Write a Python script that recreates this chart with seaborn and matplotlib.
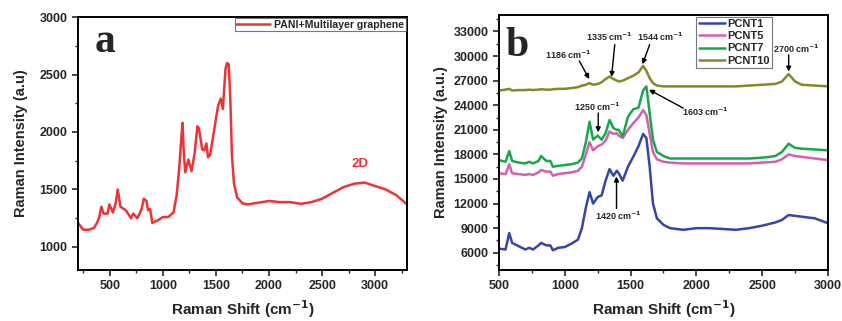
import numpy as np
import pandas as pd
import matplotlib
matplotlib.use("Agg")
import matplotlib.pyplot as plt
import seaborn as sns
from matplotlib.ticker import MultipleLocator

# ---------------- data ----------------
pani_x = [200, 250, 300, 350, 380, 400, 420, 440, 480, 495, 530, 555, 575, 600, 650, 700, 720, 760, 800, 820,
          845, 860, 880, 900, 950, 1000, 1050, 1100, 1130, 1155, 1170, 1185, 1195, 1210, 1240, 1270, 1300, 1325, 1340,
          1370, 1390, 1410, 1425, 1445, 1480, 1520, 1545, 1565, 1590, 1605, 1620, 1635, 1650, 1670, 1700, 1750,
          1800, 1900, 2000, 2100, 2200, 2300, 2400, 2500, 2600, 2700, 2800, 2900, 3000, 3100, 3200, 3300]
pani_y = [1210, 1150, 1150, 1165, 1210, 1260, 1350, 1290, 1290, 1370, 1300, 1380, 1500, 1350, 1320, 1250, 1290, 1250, 1330, 1420,
          1400, 1320, 1330, 1210, 1230, 1260, 1260, 1300, 1450, 1700, 1900, 2080, 1850, 1650, 1760, 1660, 1820, 2050, 2030,
          1850, 1840, 1900, 1780, 1800, 2000, 2230, 2290, 2200, 2550, 2600, 2590, 2300, 1800, 1550, 1430, 1380,
          1370, 1385, 1400, 1390, 1390, 1375, 1390, 1420, 1470, 1520, 1550, 1560, 1530, 1500, 1450, 1370]

b_x = [500, 550, 578, 600, 650, 700, 730, 760, 800, 820, 860, 890, 910, 950, 1000, 1050, 1100, 1130, 1160,
       1188, 1215, 1250, 1280, 1310, 1340, 1370, 1395, 1410, 1440, 1480, 1520, 1560, 1595, 1620, 1645, 1670,
       1700, 1750, 1800, 1900, 2000, 2100, 2200, 2300, 2400, 2500, 2600, 2650, 2700, 2750, 2800, 2900, 3000]
pcnt1 = [6500, 6400, 8400, 7200, 6800, 6400, 6600, 6400, 6900, 7200, 6900, 6900, 6300, 6600, 6700, 7100, 7600, 9000, 11500,
         13400, 12000, 12800, 13000, 14800, 16200, 15400, 16000, 15700, 14800, 16500, 17700, 19000, 20500, 20000, 16500, 12000,
         10200, 9400, 9000, 8800, 9000, 9000, 8900, 8800, 9000, 9300, 9700, 10000, 10600, 10500, 10400, 10200, 9600]
pcnt5 = [15700, 15600, 16800, 15700, 15600, 15500, 15600, 15500, 15800, 16100, 15900, 15900, 15400, 15600, 15700, 15800, 16000, 16500, 18000,
         19500, 18500, 19000, 19200, 19700, 20800, 20500, 20600, 20300, 20000, 21000, 21800, 22500, 23400, 22800, 20500, 18300,
         17400, 17100, 17000, 16900, 16900, 16900, 16900, 16900, 16900, 17000, 17100, 17400, 18000, 17800, 17700, 17500, 17300]
pcnt7 = [17300, 17100, 18400, 17200, 17000, 16900, 17100, 16900, 17200, 17800, 17200, 17200, 16500, 16600, 16700, 16800, 17000, 17500, 19500,
         22000, 19800, 20300, 19800, 20600, 22200, 21200, 21000, 21000, 20200, 22600, 23500, 23700, 25800, 26300, 23000, 19800,
         18300, 17800, 17500, 17500, 17500, 17500, 17500, 17500, 17500, 17600, 17800, 18300, 19300, 18800, 18700, 18600, 18500]
pcnt10 = [25800, 25900, 26000, 25800, 25850, 25850, 25900, 25850, 25900, 25950, 25900, 25900, 25950, 26000, 26000, 26100, 26200, 26400, 26500,
          26700, 26500, 26600, 26800, 27200, 27500, 27200, 27000, 26900, 27000, 27300, 27600, 28000, 28800, 28200, 27300, 26700,
          26400, 26300, 26300, 26300, 26300, 26300, 26300, 26300, 26400, 26500, 26600, 26900, 27800, 26900, 26500, 26400, 26300]

labels_b = ["PCNT1", "PCNT5", "PCNT7", "PCNT10"]
colors_b = ["#3645a8", "#d45fb0", "#16a94a", "#86872a"]
pani_color = "#ee3337"

# annotations: (text, text_x, text_y, arrow_x, arrow_y, start_x, start_y)
annot_b = [
    ("1186", 1030, 30150, 1186, 27200, 1110, 29400),
    ("1335", 1340, 32400, 1355, 27450, 1380, 31400),
    ("1544", 1725, 32300, 1590, 29000, 1645, 31400),
    ("2700", 2760, 30850, 2701, 28100, 2701, 30150),
    ("1250", 1245, 23850, 1254, 20700, 1254, 23050),
    ("1603", 2065, 23200, 1640, 25900, 1900, 23650),
    ("1420", 1405, 10450, 1393, 15300, 1393, 11400),
]

# ---------------- style ----------------
sns.set_theme(style="ticks")
plt.rcParams["font.family"] = ["Liberation Sans", "DejaVu Sans"]
plt.rcParams["font.weight"] = "bold"
plt.rcParams["axes.labelweight"] = "bold"
plt.rcParams["mathtext.default"] = "bf"
plt.rcParams["axes.linewidth"] = 1.4

fig = plt.figure(figsize=(8.42, 3.21), dpi=100)
axa = fig.add_axes([0.0926, 0.159, 0.3908, 0.788])
axb = fig.add_axes([0.5926, 0.159, 0.3908, 0.794])

# panel a
dfa = pd.DataFrame({"x": pani_x, "y": pani_y, "s": "PANI+Multilayer graphene"})
sns.lineplot(data=dfa, x="x", y="y", hue="s", palette=[pani_color], ax=axa,
             sort=False, estimator=None, linewidth=1.8)
axa.set_xlim(200, 3300)
axa.set_ylim(800, 3000)
axa.xaxis.set_major_locator(MultipleLocator(500))
axa.xaxis.set_minor_locator(MultipleLocator(250))
axa.yaxis.set_major_locator(MultipleLocator(500))
axa.yaxis.set_minor_locator(MultipleLocator(250))
axa.set_xlabel("Raman Shift (cm$^{-1}$)", fontsize=11)
axa.set_ylabel("Raman Intensity (a.u)", fontsize=10.5, labelpad=8)
axa.text(2858, 1720, "2D", color=pani_color, fontsize=9.5, ha="center", va="center")
axa.text(0.05, 0.9, "a", transform=axa.transAxes, family="Liberation Serif",
         fontsize=30, fontweight="bold", ha="left", va="center")
leg = axa.legend(loc="upper right", fontsize=7.6, frameon=True, fancybox=False,
                 edgecolor="#555555", borderpad=0.15, handlelength=3.2,
                 borderaxespad=0.1, handletextpad=0.4)
leg.get_frame().set_linewidth(0.8)

# panel b
rows = []
for lab, ys in zip(labels_b, [pcnt1, pcnt5, pcnt7, pcnt10]):
    for xv, yv in zip(b_x, ys):
        rows.append((xv, yv, lab))
dfb = pd.DataFrame(rows, columns=["x", "y", "s"])
sns.lineplot(data=dfb, x="x", y="y", hue="s", hue_order=labels_b, palette=colors_b,
             ax=axb, sort=False, estimator=None, linewidth=1.8)
axb.set_xlim(500, 3000)
axb.set_ylim(3900, 35000)
axb.xaxis.set_major_locator(MultipleLocator(500))
axb.xaxis.set_minor_locator(MultipleLocator(250))
axb.yaxis.set_major_locator(MultipleLocator(3000))
axb.yaxis.set_minor_locator(MultipleLocator(1500))
axb.set_xlabel("Raman Shift (cm$^{-1}$)", fontsize=11)
axb.set_ylabel("Raman Intensity (a.u.)", fontsize=10.5)
axb.text(0.02, 0.88, "b", transform=axb.transAxes, family="Liberation Serif",
         fontsize=30, fontweight="bold", ha="left", va="center")
for t, tx, ty, ax_, ay_, sx, sy in annot_b:
    axb.text(tx, ty, t + " cm$^{-1}$", fontsize=6.5, ha="center", va="center")
    axb.annotate("", xy=(ax_, ay_), xytext=(sx, sy),
                 arrowprops=dict(arrowstyle="-|>", color="black", lw=1.0,
                                 mutation_scale=7, shrinkA=0, shrinkB=0))
legb = axb.legend(loc="upper left", bbox_to_anchor=(0.595, 1.0), fontsize=8,
                  frameon=True, fancybox=False, edgecolor="#555555",
                  borderpad=0.2, handlelength=2.4, labelspacing=0.2,
                  borderaxespad=0.15, handletextpad=0.2)
legb.get_frame().set_linewidth(0.8)

for ax in (axa, axb):
    for sp in ax.spines.values():
        sp.set_visible(True)
        sp.set_color("black")
    ax.tick_params(axis="both", which="major", direction="out", length=4, width=1.2,
                   labelsize=9, top=False, right=False)
    ax.tick_params(axis="both", which="minor", direction="out", length=2.5, width=1.0,
                   top=False, right=False)
    for lbl in ax.get_xticklabels() + ax.get_yticklabels():
        lbl.set_fontweight("bold")

fig.savefig("out.png", dpi=100)
